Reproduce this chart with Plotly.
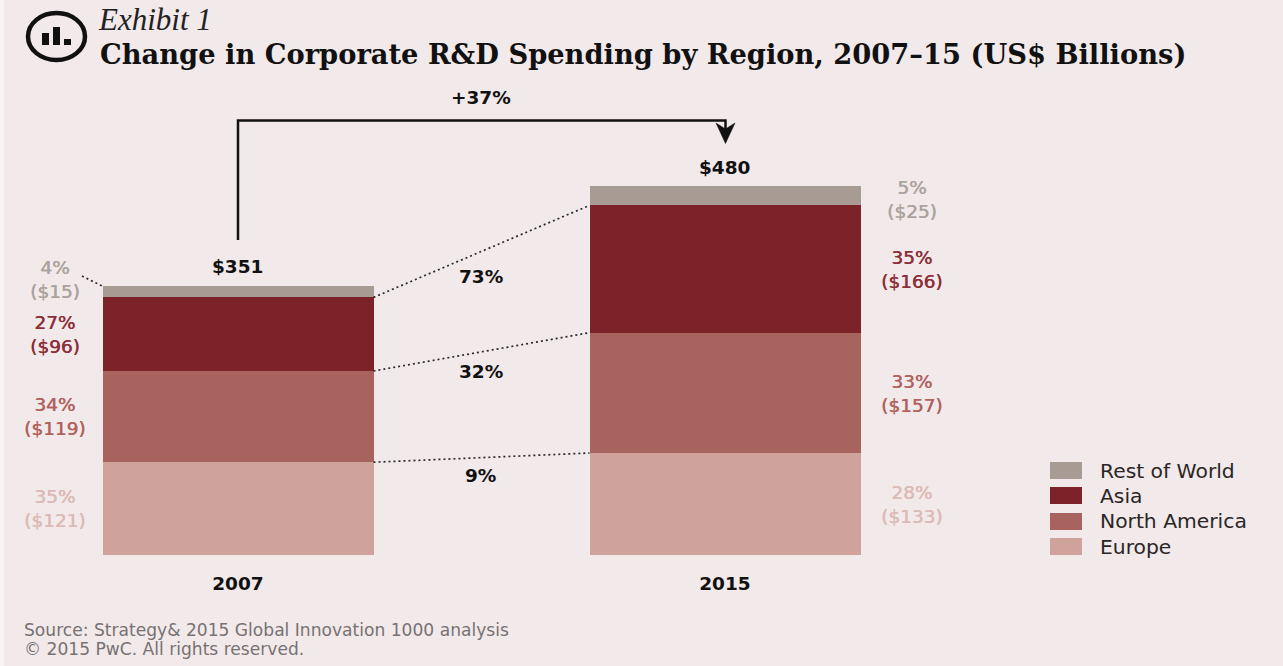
import plotly.graph_objects as go

# Spending by region, US$ billions
years = ["2007", "2015"]
regions = ["Europe", "North America", "Asia", "Rest of World"]
europe = [121, 133]
north_america = [119, 157]
asia = [96, 166]
rest_of_world = [15, 25]
shares_2007 = ["35%", "34%", "27%", "4%"]
shares_2015 = ["28%", "33%", "35%", "5%"]
totals = [351, 480]
growth_labels = ["9%", "32%", "73%"]
overall_growth = "+37%"

BG = "#f2e9ea"
COLORS = ["#cfa29c", "#a9635f", "#7e2229", "#a89b93"]
LABEL_COLORS = ["#dcbab5", "#b0625f", "#8c2f38", "#aaa39e"]
SANS = "DejaVu Sans"
SERIF = "DejaVu Serif"
DOTS = "2px,3px"

W, H = 1283, 666
BOTTOM = 111
PLOT_H = H - BOTTOM
BAR_WIDTH = 271 / 487
series = [europe, north_america, asia, rest_of_world]


def px(x):
    return x / W


def py(y):
    return (PLOT_H - y) / PLOT_H


def note(x, y, text, size=18.5, color="#111111", anchor="center", family=SANS, heavy=False):
    font = dict(family=family, size=size, color=color)
    if heavy:
        # A slight horizontal shadow gives the labels a medium weight
        font["shadow"] = f"0.5px 0 0 {color}"
    return dict(xref="paper", yref="paper", x=px(x), y=py(y), text=text, showarrow=False,
                xanchor=anchor, yanchor="middle", align=anchor,
                borderpad=0, borderwidth=0, font=font)


def canvas_path(d, **kw):
    return dict(type="path", xref="paper", yref="paper", path=d, **kw)


def P(x, y):
    return f"{px(x):.5f},{py(y):.5f}"


fig = go.Figure()
for name, vals, color in zip(regions, series, COLORS):
    fig.add_bar(x=years, y=vals, name=name, marker=dict(color=color, line_width=0), hoverinfo="x+y+name")

shapes = []
annotations = []

# Pale strip along the left edge of the page
shapes.append(dict(type="rect", xref="paper", yref="paper", x0=0, x1=px(4), y0=py(H), y1=py(0),
                   fillcolor="#f8f4f4", line_width=0, layer="below"))

# Dotted connectors between matching stack levels of the two bars
half = BAR_WIDTH / 2
cum_a, cum_b = 0, 0
for vals in series[:3]:
    cum_a += vals[0]
    cum_b += vals[1]
    shapes.append(dict(type="line", xref="x", yref="y", x0=half, x1=1 - half, y0=cum_a, y1=cum_b,
                       line=dict(color="#2a2a2a", width=1.7, dash=DOTS)))
shapes.append(dict(type="line", xref="paper", yref="paper", x0=px(82), y0=py(276), x1=px(102), y1=py(286),
                   line=dict(color="#2a2a2a", width=1.7, dash=DOTS)))

# Elbow arrow from the 2007 bar to the 2015 bar
shapes.append(canvas_path(f"M{P(238, 240)} L{P(238, 120.5)} L{P(725.5, 120.5)} L{P(725.5, 130)}",
                          line=dict(color="#111111", width=2.5)))
shapes.append(canvas_path(f"M{P(716, 123)} L{P(725.5, 129)} L{P(735, 123)} L{P(725.5, 143.5)} Z",
                          fillcolor="#111111", line=dict(color="#111111", width=0.5)))

# Exhibit icon
shapes.append(dict(type="circle", xref="paper", yref="paper", x0=px(28), x1=px(85), y0=py(60), y1=py(13),
                   line=dict(color="#111111", width=4.5)))
for x0, x1, y0 in [(42, 49, 33), (53, 60, 27), (64, 71, 39)]:
    shapes.append(dict(type="rect", xref="paper", yref="paper", x0=px(x0), x1=px(x1), y0=py(45), y1=py(y0),
                       fillcolor="#111111", line_width=0))

# Legend swatches and names, topmost region first
legend_rows = [(3, 462, 471), (2, 487, 496), (1, 513, 521), (0, 538, 547)]
for idx, top, text_y in legend_rows:
    shapes.append(dict(type="rect", xref="paper", yref="paper", x0=px(1050), x1=px(1082), y0=py(top + 17), y1=py(top),
                       fillcolor=COLORS[idx], line_width=0))
    annotations.append(note(1100, text_y, regions[idx], size=20.3, color="#2a2626", anchor="left"))

# Region labels beside each bar
left_y = [508, 416, 334, 279]
right_y = [504, 393, 269, 199]
for i, vals in enumerate(series):
    annotations.append(note(55, left_y[i], f"{shares_2007[i]}<br>(${vals[0]})", color=LABEL_COLORS[i], heavy=True))
    annotations.append(note(912, right_y[i], f"{shares_2015[i]}<br>(${vals[1]})", color=LABEL_COLORS[i], heavy=True))

# Totals above the bars
for total, y_pos, x_pos in zip(totals, [266, 167], [238, 725]):
    annotations.append(note(x_pos, y_pos, f"<b>${total}</b>"))

for label, y_pos in zip(growth_labels, [475, 371, 276]):
    annotations.append(note(481, y_pos, f"<b>{label}</b>"))
annotations.append(note(481, 97, f"<b>{overall_growth}</b>"))

# Heading and source lines
annotations.append(note(98, 19.5, "<i>Exhibit 1</i>", size=31, color="#222222", anchor="left", family="Liberation Serif"))
annotations.append(note(100, 54, "<b>Change in Corporate R&amp;D Spending by Region, 2007–15 (US$ Billions)</b>",
                        size=27.3, color="#111111", anchor="left", family=SERIF))
annotations.append(note(24, 630, "Source: Strategy&amp; 2015 Global Innovation 1000 analysis", size=17.1,
                        color="#777272", anchor="left"))
annotations.append(note(24, 649, "© 2015 PwC. All rights reserved.", size=17.1, color="#777272", anchor="left"))

fig.update_layout(
    width=W, height=H, barmode="stack", bargap=1 - BAR_WIDTH, showlegend=False,
    paper_bgcolor=BG, plot_bgcolor=BG,
    margin=dict(l=0, r=0, t=0, b=BOTTOM, pad=0),
    shapes=shapes, annotations=annotations,
    xaxis=dict(type="category", categoryorder="array", categoryarray=years,
               range=[-238 / 487, (W - 238) / 487], showgrid=False, zeroline=False, showline=False,
               ticks="", ticklabelstandoff=15, tickfont=dict(family=SANS, size=18.5, color="#111111", weight="bold")),
    yaxis=dict(range=[0, PLOT_H / 0.7667], visible=False, showgrid=False, zeroline=False),
)

fig.write_html("out.html", config=dict(displayModeBar=False))
